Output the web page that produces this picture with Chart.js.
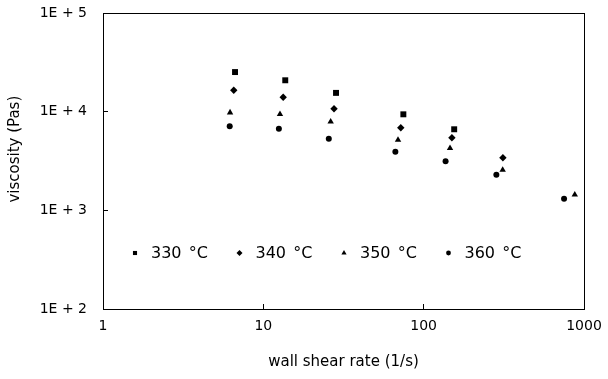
<!DOCTYPE html>
<html>
<head>
<meta charset="utf-8">
<script src="https://cdn.jsdelivr.net/npm/chart.js@4/dist/chart.umd.min.js"></script>
<style>
  html, body { margin: 0; padding: 0; background: #fff; }
  #wrap { width: 608px; height: 379px; }
</style>
</head>
<body>
<div id="wrap"><canvas id="c" width="608" height="379"></canvas></div>
<script>
// Melt viscosity vs. wall shear rate at four temperatures
const seriesLabels = ['330 °C', '340 °C', '350 °C', '360 °C'];
const markerStyles = ['rect', 'rectRot', 'triangle', 'circle'];

const shearRate330 = [6.66, 13.7, 28.4, 74.7, 155];
const visc330      = [25200, 20800, 15500, 9400, 6630];

const shearRate340 = [6.54, 13.3, 27.6, 72.0, 150, 312];
const visc340      = [16500, 14000, 10700, 6880, 5440, 3410];

const shearRate350 = [6.20, 12.7, 26.3, 69.2, 146, 311, 876];
const visc350      = [9800, 9420, 7920, 5180, 4270, 2570, 1440];

const shearRate360 = [6.17, 12.5, 25.6, 66.6, 137, 284, 751];
const visc360      = [7100, 6720, 5310, 3930, 3140, 2300, 1310];

const xTickValues = [1, 10, 100, 1000];
const xTickLabels = ['1', '10', '100', '1000'];
const yTickValues = [100, 1000, 10000, 100000];
const yTickLabels = ['1E + 2', '1E + 3', '1E + 4', '1E + 5'];

const xTitle = 'wall shear rate (1/s)';
const yTitle = 'viscosity (Pas)';

const xSeries = [shearRate330, shearRate340, shearRate350, shearRate360];
const ySeries = [visc330, visc340, visc350, visc360];
const markerRadius = [4.2, 3.7, 3.7, 3.0];
const legendRadius = [2.9, 3.0, 3.0, 2.4];

const FONT = "'DejaVu Sans', sans-serif";
Chart.defaults.font.family = FONT;
Chart.defaults.color = '#000';

const datasets = seriesLabels.map((label, i) => ({
  label,
  data: xSeries[i].map((x, k) => ({ x, y: ySeries[i][k] })),
  pointStyle: markerStyles[i],
  pointRadius: markerRadius[i],
  pointHoverRadius: markerRadius[i],
  pointBorderWidth: 0,
  backgroundColor: '#000',
  borderColor: '#000',
  showLine: false
}));

// Frame around the plotting area, plus the rotated y-axis caption
const framePlugin = {
  id: 'frame',
  afterDraw(chart) {
    const { ctx, chartArea: a } = chart;
    ctx.save();
    ctx.strokeStyle = '#000';
    ctx.lineWidth = 1;
    ctx.strokeRect(Math.round(a.left) + 0.5, Math.round(a.top) + 0.5,
                   Math.round(a.right - a.left), Math.round(a.bottom - a.top));
    ctx.translate(15, a.top + (a.bottom - a.top) * 0.46);
    ctx.rotate(-Math.PI / 2);
    ctx.fillStyle = '#000';
    ctx.font = '15px ' + FONT;
    ctx.textAlign = 'center';
    ctx.textBaseline = 'middle';
    ctx.fillText(yTitle, 0, 0);
    ctx.restore();
  }
};

// Single-row key drawn inside the plot, near its lower edge
const keyPlugin = {
  id: 'key',
  afterDatasetsDraw(chart) {
    const { ctx, chartArea: a } = chart;
    const y = a.bottom - 56;
    const step = 104.5;
    ctx.save();
    ctx.fillStyle = '#000';
    ctx.font = '16px ' + FONT;
    if ('wordSpacing' in ctx) ctx.wordSpacing = '2px';
    ctx.textBaseline = 'middle';
    ctx.textAlign = 'left';
    chart.data.datasets.forEach((ds, i) => {
      const mx = a.left + 32 + i * step;
      const opts = { pointStyle: ds.pointStyle, rotation: 0, radius: legendRadius[i], borderWidth: 0 };
      ctx.fillStyle = '#000';
      ctx.strokeStyle = '#000';
      Chart.helpers.drawPoint(ctx, opts, mx, y);
      ctx.fillText(ds.label, mx + 16, y + 1);
    });
    ctx.restore();
  }
};

new Chart(document.getElementById('c'), {
  type: 'scatter',
  data: { datasets },
  plugins: [framePlugin, keyPlugin],
  options: {
    responsive: false,
    animation: false,
    layout: { padding: { top: 13, right: 24, left: 0, bottom: 0 } },
    plugins: { legend: { display: false }, tooltip: { enabled: false } },
    scales: {
      x: {
        type: 'logarithmic',
        min: 1, max: 1000,
        afterBuildTicks(scale) { scale.ticks = xTickValues.map(v => ({ value: v })); },
        afterFit(scale) { scale.height = 70; scale.paddingLeft = 0; scale.paddingRight = 0; },
        ticks: {
          autoSkip: false, maxRotation: 0,
          padding: 14,
          font: { size: 14 },
          callback: (v) => { const i = xTickValues.indexOf(v); return i >= 0 ? xTickLabels[i] : ''; }
        },
        grid: { drawOnChartArea: false, drawTicks: true, tickLength: -5, color: '#000', lineWidth: 1 },
        border: { display: false },
        title: { display: true, text: xTitle, font: { size: 15 }, padding: { top: 0, bottom: 8 } }
      },
      y: {
        type: 'logarithmic',
        min: 100, max: 100000,
        afterBuildTicks(scale) { scale.ticks = yTickValues.map(v => ({ value: v })); },
        afterFit(scale) { scale.width = 103; scale.paddingTop = 0; scale.paddingBottom = 0; },
        ticks: {
          autoSkip: false,
          padding: 21,
          font: { size: 14 },
          callback: (v) => { const i = yTickValues.indexOf(v); return i >= 0 ? yTickLabels[i] : ''; }
        },
        grid: { drawOnChartArea: false, drawTicks: true, tickLength: -5, color: '#000', lineWidth: 1 },
        border: { display: false },
        title: { display: false }
      }
    }
  }
});
</script>
</body>
</html>
